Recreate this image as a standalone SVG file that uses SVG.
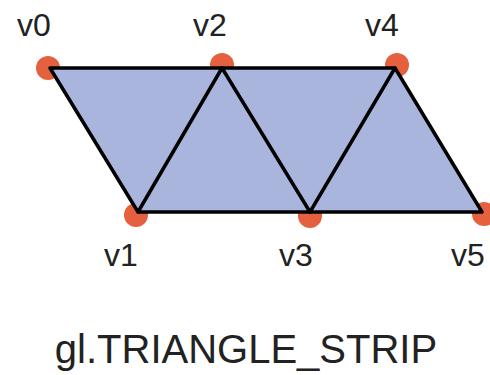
<svg xmlns="http://www.w3.org/2000/svg" width="490" height="375" viewBox="0 0 490 375">
<style>
.dot{fill:#e5603f}
.lbl{font-family:"Liberation Sans",Arial,sans-serif;font-size:32px;fill:#222;text-anchor:middle}
.edge{stroke:#000;stroke-width:3.5;fill:none;stroke-linejoin:round;stroke-linecap:round}
.title{font-family:"Liberation Sans",Arial,sans-serif;font-size:40px;fill:#222;text-anchor:middle}
</style>
<rect width="490" height="375" fill="#fff"/>
<g id="dots">
<circle class="dot" cx="48" cy="68" r="12"/>
<circle class="dot" cx="222" cy="65" r="12"/>
<circle class="dot" cx="397" cy="65" r="12"/>
<circle class="dot" cx="136" cy="215" r="12"/>
<circle class="dot" cx="310" cy="216" r="12"/>
<circle class="dot" cx="484" cy="214" r="12"/>
</g>
<polygon id="strip" points="50,68 395,68 482,212 138,212" fill="#a9b5dc"/>
<g id="connectors">
<polyline class="edge" points="50,68 395,68 482,212 138,212 50,68"/>
<line class="edge" x1="138" y1="212" x2="222" y2="68"/>
<line class="edge" x1="222" y1="68" x2="310" y2="212"/>
<line class="edge" x1="310" y1="212" x2="395" y2="68"/>
</g>
<g id="v0"><text class="lbl" x="34" y="36">v0</text></g>
<g id="v2"><text class="lbl" x="210" y="36">v2</text></g>
<g id="v4"><text class="lbl" x="382" y="36">v4</text></g>
<g id="v1"><text class="lbl" x="121" y="266">v1</text></g>
<g id="v3"><text class="lbl" x="296" y="266">v3</text></g>
<g id="v5"><text class="lbl" x="468" y="266">v5</text></g>
<text class="title" x="246" y="363">gl.TRIANGLE_STRIP</text>
</svg>
